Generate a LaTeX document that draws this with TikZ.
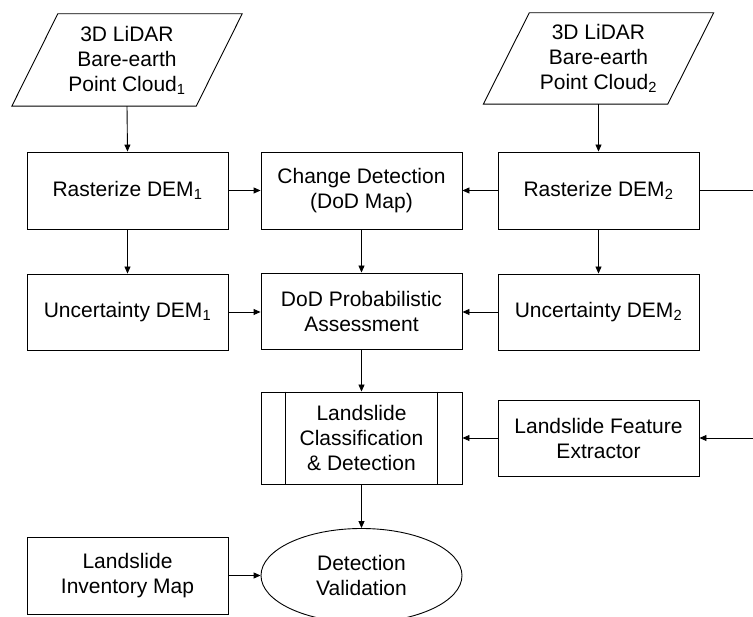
\documentclass[tikz,border=0pt]{standalone}
\usepackage{fontspec}
\setmainfont{Liberation Sans}
\usetikzlibrary{shapes.geometric,arrows.meta}
\begin{document}
\begin{tikzpicture}[x=1pt,y=-1pt,
  every node/.style={font=\fontsize{21}{25}\selectfont, align=center, inner sep=0pt},
  box/.style={draw, line width=0.9pt, minimum width=201pt, minimum height=77pt},
  arr/.style={-{Triangle[length=7pt,width=6pt]}, line width=0.9pt},
  ln/.style={line width=0.9pt}]
\useasboundingbox (0,0) rectangle (753,617);

% inputs
\node[minimum width=184pt, minimum height=92pt] (p1) at (127,60) {3D LiDAR\\Bare-earth\\Point Cloud\textsubscript{1}};
\draw[ln] ([xshift=-23pt]p1.south west) -- ([xshift=-23pt]p1.south east) -- ([xshift=23pt]p1.north east) -- ([xshift=23pt]p1.north west) -- cycle;
\node[minimum width=184pt, minimum height=91pt] (p2) at (598.5,58.5) {3D LiDAR\\Bare-earth\\Point Cloud\textsubscript{2}};
\draw[ln] ([xshift=-23pt]p2.south west) -- ([xshift=-23pt]p2.south east) -- ([xshift=23pt]p2.north east) -- ([xshift=23pt]p2.north west) -- cycle;

% row 2
\node[box] (r1) at (127.5,190.5) {Rasterize DEM\textsubscript{1}};
\node[box] (cd) at (361.5,190.5) {Change Detection\\(DoD Map)};
\node[box] (r2) at (598.5,190.5) {Rasterize DEM\textsubscript{2}};

% row 3
\node[box, minimum height=76pt] (u1) at (127.5,312) {Uncertainty DEM\textsubscript{1}};
\node[box, minimum height=76pt] (dod) at (361.5,311) {DoD Probabilistic\\Assessment};
\node[box, minimum height=76pt] (u2) at (598.5,312) {Uncertainty DEM\textsubscript{2}};

% row 4
\node[box, minimum height=92pt] (lc) at (361.5,438) {Landslide\\Classification\\\& Detection};
\draw[ln] ([xshift=25pt]lc.north west) -- ([xshift=25pt]lc.south west);
\draw[ln] ([xshift=-25pt]lc.north east) -- ([xshift=-25pt]lc.south east);
\node[box, minimum height=76pt] (fe) at (598.5,438) {Landslide Feature\\Extractor};

% row 5
\node[box] (inv) at (127.5,575.5) {Landslide\\Inventory Map};
\node[draw, ellipse, line width=0.9pt, minimum width=201pt, minimum height=94pt] (dv) at (361.5,575.5) {Detection\\Validation};

% edge coordinates
\coordinate (e1) at (753,192);
\coordinate (e2) at (753,438);

% connectors
\draw[arr] (p1.south) -- (r1.north);
\draw[arr] (p2.south) -- (r2.north);
\draw[arr] (r1) -- (cd);
\draw[arr] (r2) -- (cd);
\draw[arr] (r1) -- (u1);
\draw[arr] (cd) -- (dod);
\draw[arr] (r2) -- (u2);
\draw[arr] (u1.east) -- (u1.east -| dod.west);
\draw[arr] (u2.west) -- (u2.west -| dod.east);
\draw[arr] (dod) -- (lc);
\draw[arr] (fe) -- (lc);
\draw[arr] (lc) -- (dv);
\draw[arr] (inv) -- (dv);
\draw[ln] (r2.east) -- (r2.east -| e1);
\draw[arr] (e2) -- (fe.east);
\end{tikzpicture}
\end{document}
